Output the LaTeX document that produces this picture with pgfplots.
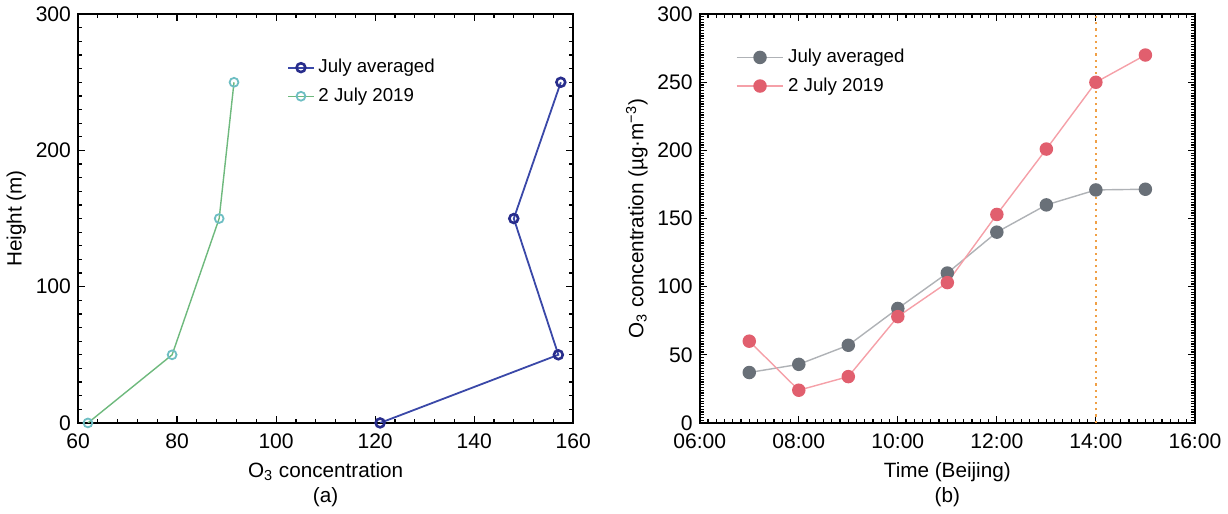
\documentclass[border=0pt]{standalone}
\usepackage{pgfplots}
\pgfplotsset{compat=1.18}
\usepackage{fontspec}
\setmainfont{Liberation Sans}

\definecolor{avgblue}{RGB}{58,72,168}
\definecolor{avgnavy}{RGB}{40,45,140}
\definecolor{daygreen}{RGB}{110,185,125}
\definecolor{daycyan}{RGB}{110,190,195}
\definecolor{avggray}{RGB}{175,178,182}
\definecolor{avgdark}{RGB}{105,112,120}
\definecolor{daypink}{RGB}{245,160,168}
\definecolor{dayred}{RGB}{225,95,110}
\definecolor{lineorange}{RGB}{240,160,70}

\pgfplotsset{
  panel/.style={
    scale only axis,
    width=246.5pt, height=203.5pt,
    axis line style={line width=0.8pt},
    tick style={black, line width=0.6pt},
    major tick length=3.5pt,
    minor tick length=2pt,
    tick align=inside,
    xtick pos=both, ytick pos=both,
    /pgf/number format/assume math mode=true,
    tick label style={font=\fontsize{10.5}{12}\selectfont},
    xticklabel style={yshift=-2pt},
    label style={font=\fontsize{10.3}{12.5}\selectfont},
    xlabel style={align=center},
    ylabel style={yshift=-2pt},
    legend style={draw=none, fill=none, font=\fontsize{9.3}{10.5}\selectfont,
      row sep=2pt, cells={anchor=west}},
    legend cell align=left,
  },
}

\begin{document}
\begin{tikzpicture}
\begin{axis}[panel,
  xmin=60, xmax=160, ymin=0, ymax=300,
  xtick={60,80,...,160}, ytick={0,100,200,300},
  minor x tick num=4, minor y tick num=9,
  xlabel={O\textsubscript{3} concentration\\(a)},
  ylabel={Height (m)},
  legend style={at={(0.41,0.91)}, anchor=north west},
  legend image code/.code={\draw[mark repeat=2,mark phase=2] plot coordinates {(0cm,0cm) (0.22cm,0cm) (0.44cm,0cm)};},
]
\addplot[avgblue, line width=0.9pt, mark=o, mark size=2.2pt,
  mark options={draw=avgnavy, line width=1.3pt}]
  coordinates {(121,0) (157,50) (148,150) (157.5,250)};
\addplot[daygreen, line width=0.7pt, mark=o, mark size=2.2pt,
  mark options={draw=daycyan, line width=0.9pt}]
  coordinates {(62,0) (79,50) (88.5,150) (91.5,250)};
\legend{July averaged, 2 July 2019}
\end{axis}

\begin{axis}[panel, at={(309.5pt,0pt)},
  xmin=6, xmax=16, ymin=0, ymax=300,
  xtick={6,8,...,16},
  xticklabels={06:00,08:00,10:00,12:00,14:00,16:00},
  ytick={0,50,...,300},
  minor x tick num=11, minor y tick num=24,
  xlabel={Time (Beijing)\\(b)},
  ylabel={O\textsubscript{3} concentration (µg·m\textsuperscript{−3})},
  legend style={at={(0.06,0.935)}, anchor=north west},
  legend image code/.code={\draw[mark repeat=2,mark phase=2] plot coordinates {(0cm,0cm) (0.41cm,0cm) (0.82cm,0cm)};},
]
\addplot[lineorange, dotted, line width=1.1pt, forget plot]
  coordinates {(14,0) (14,300)};
\addplot[avggray, line width=0.7pt, mark=*, mark size=3pt,
  mark options={fill=avgdark, draw=avgdark}]
  coordinates {(7,37) (8,43) (9,57) (10,84) (11,110) (12,140) (13,160) (14,171) (15,171.5)};
\addplot[daypink, line width=0.7pt, mark=*, mark size=3pt,
  mark options={fill=dayred, draw=dayred}]
  coordinates {(7,60) (8,24) (9,34) (10,78) (11,103) (12,153) (13,201) (14,250) (15,270)};
\legend{July averaged, 2 July 2019}
\end{axis}
\end{tikzpicture}
\end{document}
